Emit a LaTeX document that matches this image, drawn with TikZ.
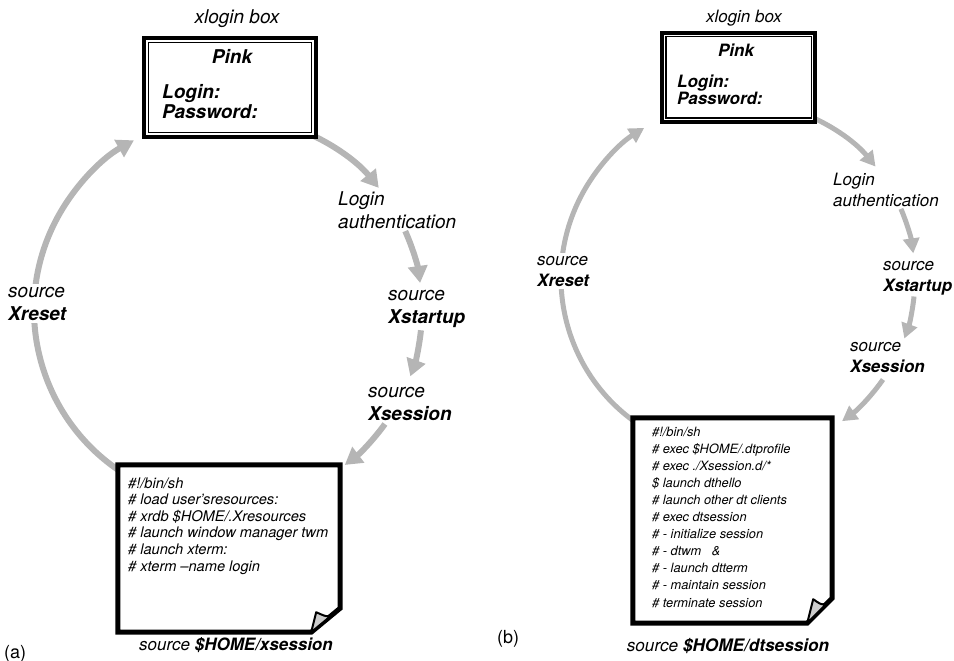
\documentclass[tikz,border=0pt]{standalone}
\usepackage{fontspec}
\setmainfont{TeX Gyre Heros}
\usetikzlibrary{arrows.meta,calc}

\begin{document}
\begin{tikzpicture}[x=1pt,y=-1pt]

\definecolor{arcgray}{rgb}{0.71,0.71,0.71}
\definecolor{foldgray}{rgb}{0.80,0.80,0.80}

\tikzset{
  flowL/.style={draw=arcgray, line width=6pt, -{Triangle[width=19pt,length=17pt]}},
  flowR/.style={draw=arcgray, line width=5pt, -{Triangle[width=16pt,length=15pt]}},
  lblL/.style={font=\fontsize{19}{22.5}\selectfont\itshape, align=left, inner sep=0pt, anchor=base west},
  lblR/.style={font=\fontsize{17}{21}\selectfont\itshape, align=left, inner sep=0pt, anchor=base west},
  codeL/.style={font=\fontsize{14.6}{16.6}\selectfont\itshape, align=left, inner sep=0pt, anchor=base west},
  codeR/.style={font=\fontsize{12.8}{17.1}\selectfont\itshape, align=left, inner sep=0pt, anchor=base west},
  loginbox/.style={draw, line width=3.5pt, fill=white, inner sep=0pt},
  docpage/.style={fill=white, inner sep=0pt},
  docedge/.style={line width=5pt, line join=miter},
  pagefold/.style={fill=foldgray, draw, line width=2pt, line join=round},
}

% arcs of the cycle: #1 centre, #2 radius, #3 style, #4 angle pairs
\newcommand{\CycleArcs}[4]{%
  \foreach \a/\b [count=\k] in {#4} {
    \coordinate (#1-s\k) at ($(#1)+(\a:#2)$);
    \draw[#3] (#1-s\k) arc[start angle=\a, end angle=\b, radius=#2];
  }%
}

\useasboundingbox (0,0) rectangle (954,661);

% ---- panel (a)
\coordinate (cL) at (228,310);
\CycleArcs{cL}{194}{flowL}{120/241, 290/321, 336/352, 366/380, 396/413}

\node[loginbox, minimum width=172, minimum height=99] (xloginL) at (230,87.5) {};
\draw[line width=1.3pt] ([shift={(6,6)}]xloginL.north west) rectangle ([shift={(-6,-6)}]xloginL.south east);

% multi-line nodes sit on the baseline of their last line
\node[lblL, anchor=base] (xlabL) at (237,24) {xlogin box};
\node[lblL, anchor=base, font=\fontsize{19}{20}\selectfont\bfseries\itshape] (pinkL) at (232,64) {Pink};
\node[lblL, font=\fontsize{19}{20}\selectfont\bfseries\itshape] (userL) at (162,118) {Login:\\Password:};

\node[lblL] (authL) at (338,228) {Login\\authentication};
\node[lblL] (startL) at (388,323) {source\\\textbf{Xstartup}};
\node[lblL] (sessL) at (368,420) {source\\\textbf{Xsession}};
\node[lblL, fill=white, inner sep=3pt] (resetL) at (5,320) {source\\\textbf{Xreset}};

\node[docpage, minimum width=222, minimum height=167] (docL) at (229,548.5) {};
\draw[docedge] (docL.north west) -- (docL.north east) -- ([yshift=24pt]docL.south east)
  -- ([xshift=-29pt]docL.south east) -- (docL.south west) -- cycle;
\filldraw[pagefold] ([xshift=-29pt]docL.south east) -- ([xshift=-24pt,yshift=20pt]docL.south east)
  .. controls ([xshift=-11pt,yshift=14pt]docL.south east) .. ([yshift=24pt]docL.south east) -- cycle;

\node[codeL] (scriptL) at (128,571) {\#!/bin/sh\\
  \# load user'sresources:\\
  \# xrdb \$HOME/.Xresources\\
  \# launch window manager twm\\
  \# launch xterm:\\
  \# xterm \textendash name login};

\node[lblL, anchor=base, font=\fontsize{17}{20}\selectfont\itshape] (capL) at (236,650) {source \textbf{\$HOME/xsession}};
\node[anchor=base west, inner sep=0pt, font=\fontsize{18}{20}\selectfont] (tagA) at (4,658) {(a)};

% ---- panel (b)
\coordinate (cR) at (738,278);
\CycleArcs{cR}{177}{flowR}{120/238, 290/321, 337/352, 366/380, 395/414}

\node[loginbox, minimum width=153, minimum height=89] (xloginR) at (738.5,77.5) {};
\draw[line width=1.3pt] ([shift={(5.6,5.6)}]xloginR.north west) rectangle ([shift={(-5.6,-5.6)}]xloginR.south east);

\node[lblR, anchor=base] (xlabR) at (744,23) {xlogin box};
\node[lblR, anchor=base, font=\fontsize{17}{17}\selectfont\bfseries\itshape] (pinkR) at (736,57) {Pink};
\node[lblR, font=\fontsize{17}{17}\selectfont\bfseries\itshape] (userR) at (677,104) {Login:\\Password:};

\node[lblR] (authR) at (833,206) {Login\\authentication};
\node[lblR] (startR) at (883,291) {source\\\textbf{Xstartup}};
\node[lblR] (sessR) at (850,372) {source\\\textbf{Xsession}};
\node[lblR, fill=white, inner sep=3pt] (resetR) at (534,286) {source\\\textbf{Xreset}};

\node[docpage, minimum width=199, minimum height=205] (docR) at (732.5,520.5) {};
\draw[docedge] (docR.north west) -- (docR.north east) -- ([yshift=25pt]docR.south east)
  -- ([xshift=-25pt]docR.south east) -- (docR.south west) -- cycle;
\filldraw[pagefold] ([xshift=-25pt]docR.south east) -- ([xshift=-19pt,yshift=24pt]docR.south east)
  .. controls ([xshift=-9pt,yshift=17pt]docR.south east) .. ([yshift=25pt]docR.south east) -- cycle;

\node[codeR] (scriptR) at (652,607) {\#!/bin/sh\\
  \# exec \$HOME/.dtprofile\\
  \# exec ./Xsession.d/*\\
  \$ launch dthello\\
  \# launch other dt clients\\
  \# exec dtsession\\
  \# - initialize session\\
  \# - dtwm\ \ \ \&\\
  \# - launch dtterm\\
  \# - maintain session\\
  \# terminate session};

\node[lblR, anchor=base, font=\fontsize{17.2}{20}\selectfont\itshape] (capR) at (728,651) {source \textbf{\$HOME/dtsession}};
\node[anchor=base west, inner sep=0pt, font=\fontsize{18}{20}\selectfont] (tagB) at (497,643) {(b)};

\end{tikzpicture}
\end{document}
